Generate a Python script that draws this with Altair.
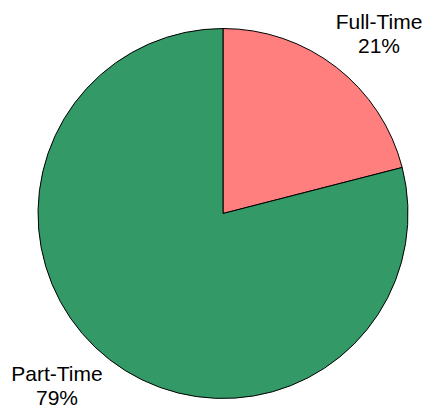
import altair as alt
import pandas as pd

categories = ["Full-Time", "Part-Time"]
shares = [21, 79]
colors = ["#FF7F7F", "#339966"]

df = pd.DataFrame({"category": categories, "share": shares, "order": [0, 1]})
df["label"] = [[c, f"{s}%"] for c, s in zip(categories, shares)]

base = alt.Chart(df)

pie = base.mark_arc(outerRadius=185, stroke="black", strokeWidth=1).encode(
    theta=alt.Theta("share:Q", stack=True),
    order=alt.Order("order:Q"),
    color=alt.Color("category:N", scale=alt.Scale(domain=categories, range=colors), legend=None),
    x=alt.value(215),
    y=alt.value(205.5),
)

label_pos = {"Full-Time": (371, 21), "Part-Time": (49, 373)}

texts = []
for cat, (lx, ly) in label_pos.items():
    texts.append(
        base.transform_filter(alt.datum.category == cat)
        .mark_text(font="Liberation Sans", fontSize=21, color="black",
                   align="center", baseline="alphabetic", lineHeight=24)
        .encode(text="label", x=alt.value(lx), y=alt.value(ly))
    )

chart = alt.layer(pie, *texts).properties(
    width=416, height=403, autosize=alt.AutoSizeParams(type="none"), padding=0
).configure_view(stroke=None)

chart.save("out.html", embed_options={"renderer": "svg", "actions": False})
